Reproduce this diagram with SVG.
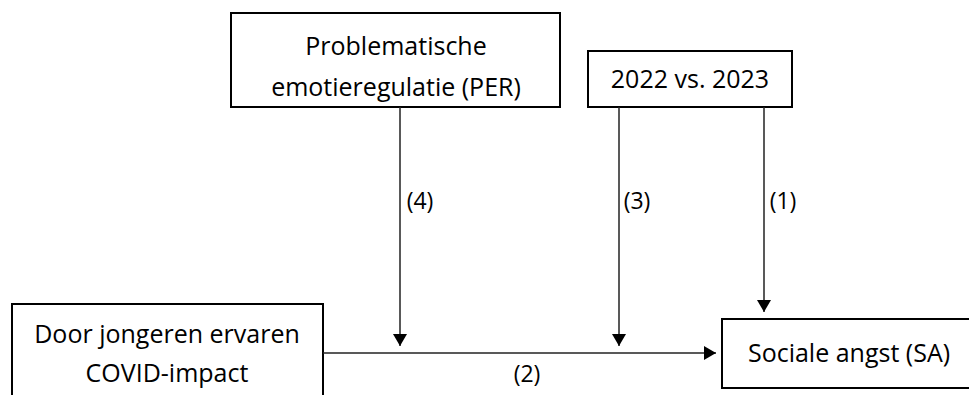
<svg xmlns="http://www.w3.org/2000/svg" width="969" height="395" viewBox="0 0 969 395">
<defs>
<style>
.box{fill:#fff;stroke:#000;stroke-width:2}
.t{font-family:"Open Sans","Liberation Sans",sans-serif;font-size:25px;fill:#000;text-anchor:middle}
.c{stroke:#222;stroke-width:1.5;fill:none}
.lbl{font-family:"Open Sans","Liberation Sans",sans-serif;font-size:23px;fill:#000;text-anchor:middle}
</style>
<marker id="ah" viewBox="0 0 12 14" refX="12" refY="7" markerWidth="12" markerHeight="14" markerUnits="userSpaceOnUse" orient="auto">
<path d="M0,0 L12,7 L0,14 Z" fill="#000"/>
</marker>
</defs>
<g id="per">
<rect class="box" x="231" y="13" width="329" height="94"/>
<text class="t" x="396" y="55">Problematische</text>
<text class="t" x="396" y="96">emotieregulatie (PER)</text>
</g>
<g id="year">
<rect class="box" x="588" y="51" width="204" height="56"/>
<text class="t" x="690" y="88">2022 vs. 2023</text>
</g>
<g id="covid">
<rect class="box" x="12" y="304" width="311" height="92"/>
<text class="t" x="167" y="343">Door jongeren ervaren</text>
<text class="t" x="167" y="382">COVID-impact</text>
</g>
<g id="sa">
<rect class="box" x="722" y="319" width="260" height="69"/>
<text class="t" x="849" y="362">Sociale angst (SA)</text>
</g>
<g id="connectors">
<line class="c" x1="323" y1="353" x2="716" y2="353" marker-end="url(#ah)"/>
<line class="c" x1="400" y1="107" x2="400" y2="346" marker-end="url(#ah)"/>
<line class="c" x1="619" y1="107" x2="619" y2="346" marker-end="url(#ah)"/>
<line class="c" x1="764" y1="107" x2="764" y2="312" marker-end="url(#ah)"/>
<text class="lbl" x="420" y="209">(4)</text>
<text class="lbl" x="637" y="209">(3)</text>
<text class="lbl" x="783" y="209">(1)</text>
<text class="lbl" x="527" y="382">(2)</text>
</g>
</svg>
